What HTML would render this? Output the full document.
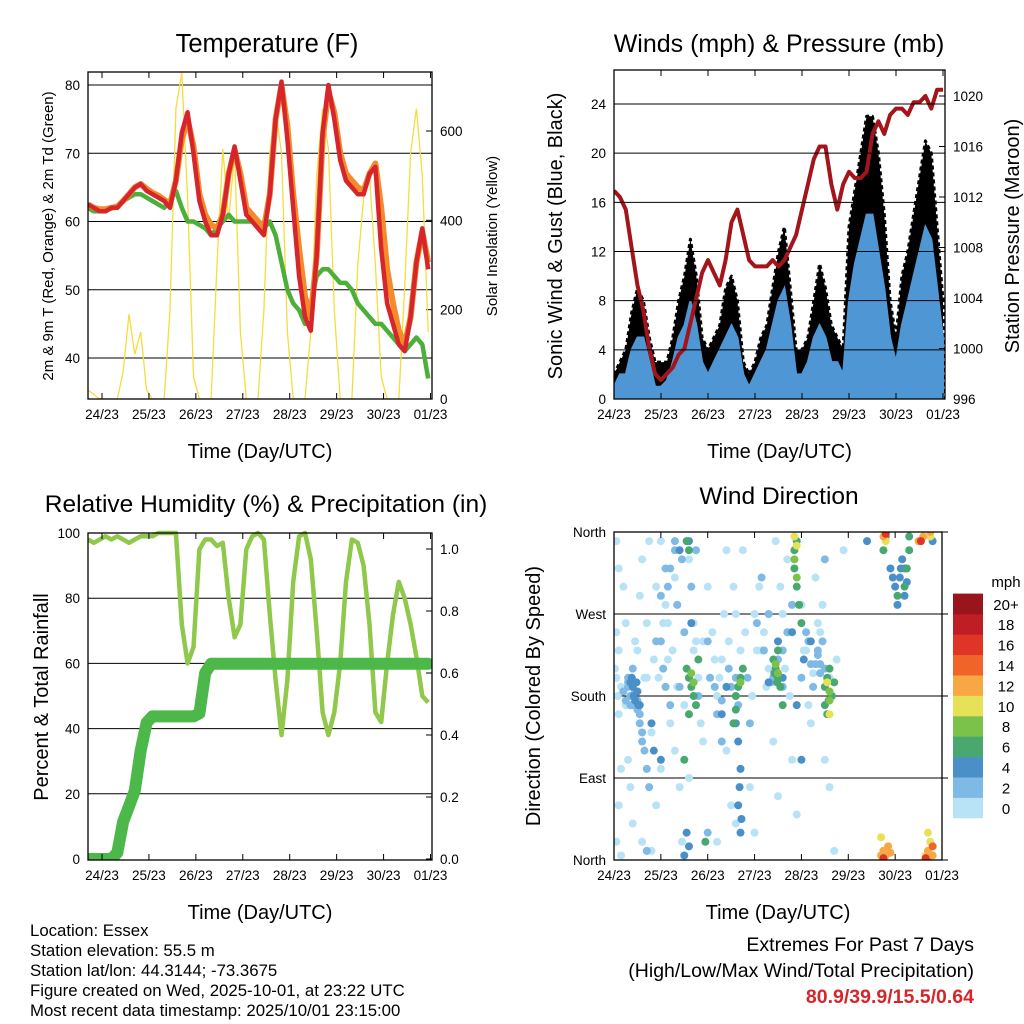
<!DOCTYPE html>
<html><head><meta charset="utf-8"><style>
html,body{margin:0;padding:0;background:#fff;}
svg{display:block;font-family:"Liberation Sans",sans-serif;}
</style></head><body>
<svg id="c" width="1024" height="1024" viewBox="0 0 1024 1024"></svg>
<script>
// ---------- DATA ----------
const tempT0 = -0.3;
const tempStep = 0.125;
const temp2m = [62.5,62,61.5,61.5,62,62,63,64,65,65.5,64.5,64,63.5,63,62,66,73,76,70,63,60,58,58,61,67,71,66,61,60,59,58,64,75,80.5,72,62,52,46,44,55,73,80,75,69,66,65,64,64,67,68,56,48,45,42,41,46,54,59,53];
const temp9m = [62.5,62,61.8,61.8,62,62.2,63,64,65,65.5,64.8,64.2,63.8,63.2,62.5,66,72,75,71,64,61,59.5,59,61,67,70.5,67,62,61,60,59,64,75,80,74,64,56,49,46,55,72,79,76,70,67,66,65,64.5,67,68.5,62,53,48,44,42,46,54,58.5,54];
const dew2m = [62,61.5,61.5,61.5,62,62,63,63.5,64,64,63.5,63,62.5,62,63,64.5,62,60,60,59.5,59,58,59,60,61,60,60,60,60,60,59,60,58,54,50,48,47,45,48,52,53,53,52,51,51,50,48,47,46,45,45,44,43,42,41,42,43,42,37];
const solar = [20,10,0,0,0,0,60,190,100,150,20,0,0,0,200,650,730,450,50,0,0,0,300,560,400,550,150,0,0,0,200,550,650,550,150,0,0,0,150,500,650,560,200,0,0,0,300,450,500,300,50,0,0,0,250,550,650,500,150];
const tempTicks = [40,50,60,70,80];
const solarTicks = [0,200,400,600];
const dayLabels = ["24/23","25/23","26/23","27/23","28/23","29/23","30/23","01/23"];

const windT0 = 0;
const windStep = 0.125;
const pressure = [1012.5,1012,1011,1008,1005,1003,1000,998,997.5,998,998.5,999.5,1000,1002,1004,1006,1007,1006,1005,1007,1010,1011,1009,1007,1006.5,1006.5,1006.5,1007,1006.5,1007,1008,1009,1011,1013,1015,1016,1016,1013,1011,1013,1014,1013.5,1013.5,1014,1017,1018,1017,1018.5,1019,1019,1018.5,1019.5,1019.5,1020,1019,1020.5,1020.5];
const gust = [2,3,4,7,9,8,5,3,3,3,5,8,10,13,10,5,4,5,6,9,10,8,3,2,3,5,6,9,12,14,9,4,4,5,8,11,9,6,5,4,14,17,20,23,23,20,15,8,5,10,12,15,18,21,20,14,8];
const sonic = [1,2,2,4,5,5,3,1,1,1.5,3,5,6,8,6,3,2,3,4,5,6,5,2,1,2,3,4,6,8,9,6,2,2,3,5,6,5,3,3,2,8,11,13,15,15,12,9,5,3,6,8,10,12,14,13,9,5];
const windTicks = [0,4,8,12,16,20,24];
const presTicks = [996,1000,1004,1008,1012,1016,1020];

const rhT0 = -0.3;
const rhStep = 0.125;
const rh = [98,97,98,99,98,99,98,97,98,99,99,99,100,100,100,100,72,60,65,95,98,98,96,97,80,68,72,95,99,100,98,75,55,38,55,85,99,100,92,70,45,38,45,60,85,98,97,90,72,45,42,60,75,85,80,72,62,50,48];
const precip = [0,0,0,0,0,0.02,0.12,0.17,0.22,0.35,0.44,0.46,0.46,0.46,0.46,0.46,0.46,0.46,0.46,0.47,0.6,0.63,0.63,0.63,0.63,0.63,0.63,0.63,0.63,0.63,0.63,0.63,0.63,0.63,0.63,0.63,0.63,0.63,0.63,0.63,0.63,0.63,0.63,0.63,0.63,0.63,0.63,0.63,0.63,0.63,0.63,0.63,0.63,0.63,0.63,0.63,0.63,0.63,0.63];
const rhTicks = [0,20,40,60,80,100];
const precipTicks = [0.0,0.2,0.4,0.6,0.8,1.0];

const dirTime = [0.05,0.1,0.05,0.1,0.05,0.1,0.15,0.1,0.05,0.15,0.3,0.35,0.5,0.6,0.55,0.7,0.7,0.8,0.9,0.9,1.0,1.1,1.15,1.2,1.3,1.4,1.45,1.6,1.7,1.8,1.9,2.0,2.1,2.2,2.3,2.4,2.5,2.6,2.6,2.7,2.75,3.1,3.2,3.3,3.4,3.5,3.6,3.8,3.9,4.0,4.2,4.1,4.3,4.4,4.5,4.6,4.7,4.9,1.6,2.9,3.0,0.4,1.3,2.2,3.7,4.6,0.8,1.0,2.4,3.45,
0.02,0.08,0.2,0.25,0.45,0.65,0.75,0.95,1.05,1.25,1.35,1.5,1.75,1.85,2.05,2.15,2.35,2.45,2.8,2.95,3.05,3.25,3.55,3.65,3.75,4.05,4.15,4.35,4.45,4.75,0.6,1.9,2.55,3.0,0.15,0.25,0.85,1.15,1.7,2.25,3.15,4.25,
0.3,0.35,0.4,0.45,0.5,0.55,0.6,0.65,0.7,0.75,0.3,0.4,1.05,1.1,1.2,1.0,1.2,1.3,1.35,1.5,1.6,1.65,1.75,1.8,2.0,2.2,2.3,2.5,2.6,2.65,2.85,3.15,3.3,3.5,3.6,3.7,3.8,4.0,4.1,4.15,4.25,4.3,4.35,4.4,4.45,4.5,4.5,1.4,2.9,3.35,2.0,0.7,
0.2,0.25,0.3,0.35,0.4,0.5,0.55,0.6,0.9,1.0,1.1,1.15,2.05,2.15,2.45,3.05,3.2,3.4,3.6,3.7,4.2,4.35,4.4,1.3,1.45,2.3,
0.4,0.45,0.5,0.55,0.35,0.8,0.85,1.0,1.4,1.6,1.5,2.65,2.7,2.65,2.7,2.6,3.5,3.6,3.8,4.05,4.2,4.0,2.4,2.3,3.9,3.3,1.55,1.6,1.65,5.9,6.0,6.1,6.2,5.95,6.8,5.4,6.2,6.15,0.42,0.48,0.52,0.38,2.68,2.72,6.05,6.12,6.25,
1.55,1.6,1.65,1.7,1.75,1.6,1.8,2.6,2.65,2.7,2.75,2.6,2.55,3.4,3.45,3.5,3.55,3.6,3.5,4.5,4.55,4.6,4.65,4.5,4.55,4.7,3.85,3.85,3.9,3.95,4.0,3.9,1.55,1.6,6.05,6.2,6.25,6.3,6.3,5.75,5.8,1.95,1.5,3.42,3.48,4.58,
3.85,3.9,3.5,4.6,1.7,1.65,3.45,4.6,2.7,
3.85,3.9,4.55,4.6,5.8,6.75,6.65,5.7,6.7,6.75,
5.8,5.75,6.6,6.75,5.75,5.8,5.85,5.7,6.7,6.75,6.8,6.7,5.9,6.5,6.8,
5.75,5.8,6.65,6.55];
const dirDeg = [350,320,250,230,200,160,100,60,20,5,110,80,230,330,290,260,200,140,60,300,350,280,220,150,120,80,20,330,260,200,130,300,250,180,220,120,60,40,270,230,340,300,250,210,130,70,270,110,50,280,150,230,310,250,110,200,10,340,90,80,30,40,310,20,330,80,10,100,340,350,
210,180,300,260,240,200,350,200,260,230,190,170,240,150,200,220,270,240,250,180,230,190,300,210,180,230,170,260,280,220,20,240,300,270,190,170,220,260,230,200,230,205,
190,180,170,185,175,160,140,120,100,80,200,210,210,190,170,240,320,340,280,250,200,300,340,180,240,160,130,190,200,170,200,310,270,220,190,250,280,200,250,240,190,215,230,215,240,210,330,190,150,195,30,10,
185,175,195,170,180,165,150,130,240,290,320,300,200,190,210,260,230,200,230,250,215,225,205,350,330,175,
190,175,185,170,195,150,120,110,340,350,5,130,100,60,30,150,240,200,250,220,240,110,190,160,170,195,30,15,260,320,300,310,290,310,350,350,320,330,180,195,170,200,80,45,280,320,305,
210,200,190,180,170,160,220,180,190,200,210,165,150,220,210,200,190,170,230,190,200,210,180,170,160,195,340,320,300,280,260,350,350,340,290,300,320,340,355,340,355,20,110,205,195,175,
330,310,205,185,195,205,215,175,195,
355,345,195,160,350,355,5,25,30,20,
360,355,355,360,10,5,15,5,10,5,15,0,8,350,5,
2,358,2,350];
const dirSpeed = [
1,1,1,1,1,1,1,1,1,1,1,1,1,1,1,1,1,1,1,1,1,1,1,1,1,1,1,1,1,1,1,1,1,1,1,1,1,1,1,1,1,1,1,1,1,1,1,1,1,1,1,1,1,1,1,1,1,1,1,1,1,1,1,1,1,1,1,1,1,1,
1,1,1,1,1,1,1,1,1,1,1,1,1,1,1,1,1,1,1,1,1,1,1,1,1,1,1,1,1,1,1,1,1,1,1,1,1,1,1,1,1,1,
3,3,3,3,3,3,3,3,3,3,3,3,3,3,3,3,3,3,3,3,3,3,3,3,3,3,3,3,3,3,3,3,3,3,3,3,3,3,3,3,3,3,3,3,3,3,3,3,3,3,3,3,
3,3,3,3,3,3,3,3,3,3,3,3,3,3,3,3,3,3,3,3,3,3,3,3,3,3,
5,5,5,5,5,5,5,5,5,5,5,5,5,5,5,5,5,5,5,5,5,5,5,5,5,5,5,5,5,5,5,5,5,5,5,5,5,5,5,5,5,5,5,5,5,5,5,
7,7,7,7,7,7,7,7,7,7,7,7,7,7,7,7,7,7,7,7,7,7,7,7,7,7,7,7,7,7,7,7,7,7,7,7,7,7,7,7,7,7,7,7,7,7,
9,9,9,9,9,9,9,9,9,
11,11,11,11,11,11,11,11,11,11,
13,13,13,13,13,13,13,13,13,13,14,14,13,13,13,
16,16,16,16];
const dirTicks = [0,90,180,270,360];
const dirLabels = ["North","East","South","West","North"];
const speedBins = ["0","2","4","6","8","10","12","14","16","18","20+"];
const speedColors = ["#b8e2f6","#7fbae6","#4b8fc8","#48a870","#7bc24a","#e6e257","#f7a845","#f16429","#df3527","#c01e26","#98151b"];

// ---------- DRAWING ----------
const svg = document.getElementById('c');
const NS = 'http://www.w3.org/2000/svg';
function el(tag, attrs, parent){
  const e = document.createElementNS(NS, tag);
  for (const k in attrs) e.setAttribute(k, attrs[k]);
  (parent||svg).appendChild(e);
  return e;
}
function txt(s, x, y, size, anchor, parent, extra){
  const t = el('text', Object.assign({x:x, y:y, 'font-size':size, 'text-anchor':anchor||'middle', fill:'#000'}, extra||{}), parent);
  t.textContent = s;
  return t;
}
function lin(a0,a1,p0,p1){ return v => p0 + (v-a0)*(p1-p0)/(a1-a0); }

function frame(g, L, T, R, B, xs, nameBase){
  for (let i=0;i<dayLabels.length;i++){
    const x = xs(i);
    el('line',{x1:x,y1:B,x2:x,y2:B-6,stroke:'#000','stroke-width':1},g);
    el('line',{x1:x,y1:T,x2:x,y2:T+6,stroke:'#000','stroke-width':1},g);
    const t = txt(dayLabels[i], x, B+20, 13.5, 'middle', g);
    
    
  }
  const r = el('rect',{x:L,y:T,width:R-L,height:B-T,fill:'none',stroke:'#000','stroke-width':1.3},g);
  
  
  const xt = txt('Time (Day/UTC)', (L+R)/2, B+59, 20, 'middle', g);
  
  
}
function pathFrom(xsArr, ysArr){
  let d='';
  for (let i=0;i<xsArr.length;i++) d += (i?'L':'M') + xsArr[i].toFixed(1)+','+ysArr[i].toFixed(1);
  return d;
}

// ===== Panel 1: Temperature =====
(function(){
  const g = el('g',{});
  
  
  const L=88,R=432,T=72,B=399;
  const xs = lin(0,7,102,430.5);
  const ys = lin(80,40,85,358);
  const ysol = lin(0,600,399,131);
  const cp = el('clipPath',{id:'cp1'},g); el('rect',{x:L,y:T,width:R-L,height:B-T},cp);
  tempTicks.forEach(v=>{
    el('line',{x1:L,x2:R,y1:ys(v),y2:ys(v),stroke:'#000','stroke-width':1},g);
    const t = txt(String(v), L-8, ys(v)+5, 13.5, 'end', g);
    
    
  });
  solarTicks.forEach(v=>{
    el('line',{x1:R,x2:R-6,y1:ysol(v),y2:ysol(v),stroke:'#000'},g);
    const t = txt(String(v), R+8, ysol(v)+5, 13.5, 'start', g);
    
    
  });
  const pg = el('g',{'clip-path':'url(#cp1)'},g);
  const tx = solar.map((v,i)=>xs(tempT0+i*tempStep));
  const sp = el('path',{d:pathFrom(tx, solar.map(ysol)),fill:'none',stroke:'#f6dc3c','stroke-width':1.3},pg);
  
  
  const dp = el('path',{d:pathFrom(tx, dew2m.map(ys)),fill:'none',stroke:'#4caf3a','stroke-width':4.5,'stroke-linejoin':'round'},pg);
  
  
  const op = el('path',{d:pathFrom(tx, temp9m.map(ys)),fill:'none',stroke:'#f58a2a','stroke-width':6,'stroke-linejoin':'round'},pg);
  
  
  const rp = el('path',{d:pathFrom(tx, temp2m.map(ys)),fill:'none',stroke:'#d7262b','stroke-width':4.5,'stroke-linejoin':'round'},pg);
  
  
  frame(g,L,T,R,B,xs,'temp');
  const ti = txt('Temperature (F)', 267, 52, 25.5, 'middle', g);
  
  
  const yl = txt('2m & 9m T (Red, Orange) & 2m Td (Green)', 0, 0, 15, 'middle', g, {transform:'translate(53,236) rotate(-90)'});
  
  
  const yr = txt('Solar Insolation (Yellow)', 0, 0, 15, 'middle', g, {transform:'translate(497,236) rotate(-90)'});
  
  
})();

// ===== Panel 2: Winds & Pressure =====
(function(){
  const g = el('g',{});
  
  
  const L=614,R=945,T=70,B=399;
  const xs = lin(0,7,614,943);
  const ys = lin(0,24,399,104);
  const yp = lin(996,1020,399,96);
  const cp = el('clipPath',{id:'cp2'},g); el('rect',{x:L,y:T,width:R-L,height:B-T},cp);
  const pg = el('g',{'clip-path':'url(#cp2)'},g);
  const tx = gust.map((v,i)=>xs(windT0+i*windStep));
  const gd = pathFrom(tx, gust.map(ys)) + 'L'+tx[tx.length-1]+','+B+'L'+tx[0]+','+B+'Z';
  const ga = el('path',{d:gd,fill:'#000',stroke:'#000','stroke-width':3,'stroke-linejoin':'round','stroke-dasharray':'4 3'},pg);
  
  
  const sd = pathFrom(tx, sonic.map(ys)) + 'L'+tx[tx.length-1]+','+B+'L'+tx[0]+','+B+'Z';
  const sa = el('path',{d:sd,fill:'#4f97d4',stroke:'#4f97d4','stroke-width':2},pg);
  
  
  windTicks.forEach(v=>{
    el('line',{x1:L,x2:R,y1:ys(v),y2:ys(v),stroke:'#000','stroke-width':1},g);
    const t = txt(String(v), L-8, ys(v)+5, 13.5, 'end', g);
    
    
  });
  const pl = el('path',{d:pathFrom(tx, pressure.map(yp)),fill:'none',stroke:'#a3151b','stroke-width':4,'stroke-linejoin':'round'},pg);
  
  
  presTicks.forEach(v=>{
    el('line',{x1:R,x2:R-6,y1:yp(v),y2:yp(v),stroke:'#000'},g);
    const t = txt(String(v), R+8, yp(v)+5, 13.5, 'start', g);
    
    
  });
  frame(g,L,T,R,B,xs,'winds');
  const ti = txt('Winds (mph) & Pressure (mb)', 779, 52, 25, 'middle', g);
  
  
  const yl = txt('Sonic Wind & Gust (Blue, Black)', 0, 0, 20, 'middle', g, {transform:'translate(562,236) rotate(-90)'});
  
  
  const yr = txt('Station Pressure (Maroon)', 0, 0, 20, 'middle', g, {transform:'translate(1019,236) rotate(-90)'});
  
  
})();

// ===== Panel 3: RH & Precip =====
(function(){
  const g = el('g',{});
  
  
  const L=88,R=432,T=533,B=860;
  const xs = lin(0,7,102,430.5);
  const ys = lin(0,100,859,533);
  const yp = lin(0,1,859,549);
  const cp = el('clipPath',{id:'cp3'},g); el('rect',{x:L,y:T-8,width:R-L,height:B-T+8},cp);
  rhTicks.forEach(v=>{
    if (v>0 && v<100) el('line',{x1:L,x2:R,y1:ys(v),y2:ys(v),stroke:'#000','stroke-width':1},g);
    const t = txt(String(v), L-8, ys(v)+5, 13.5, 'end', g);
    
    
  });
  precipTicks.forEach(v=>{
    el('line',{x1:R,x2:R-6,y1:yp(v),y2:yp(v),stroke:'#000'},g);
    const t = txt(v.toFixed(1), R+8, yp(v)+5, 13.5, 'start', g);
    
    
  });
  const pg = el('g',{'clip-path':'url(#cp3)'},g);
  const tx = rh.map((v,i)=>xs(rhT0+i*rhStep));
  const rl = el('path',{d:pathFrom(tx, rh.map(ys)),fill:'none',stroke:'#8fc84a','stroke-width':4.5,'stroke-linejoin':'round'},pg);
  
  
  const pl = el('path',{d:pathFrom(tx, precip.map(yp)),fill:'none',stroke:'#4cb84a','stroke-width':12,'stroke-linejoin':'round','stroke-linecap':'round'},pg);
  
  
  frame(g,L,T,R,B,xs,'humidity');
  const ti = txt('Relative Humidity (%) & Precipitation (in)', 266, 512, 24.5, 'middle', g);
  
  
  const yl = txt('Percent & Total Rainfall', 0, 0, 20, 'middle', g, {transform:'translate(48,697) rotate(-90)'});
  
  
})();

// ===== Panel 4: Wind Direction =====
(function(){
  const g = el('g',{});
  
  
  const L=614,R=942,T=532,B=860;
  const xs = lin(0,7,614,942);
  const ys = lin(0,360,860,532);
  const cp = el('clipPath',{id:'cp4'},g); el('rect',{x:L,y:T,width:R-L,height:B-T},cp);
  dirTicks.forEach((v,i)=>{
    el('line',{x1:L,x2:R+6,y1:ys(v),y2:ys(v),stroke:'#000','stroke-width':1},g);
    const t = txt(dirLabels[i], L-8, ys(v)+5, 13.5, 'end', g);
    
    
  });
  const pg = el('g',{'clip-path':'url(#cp4)'},g);
  for (let i=0;i<dirTime.length;i++){
    const bin = Math.min(10, Math.floor(dirSpeed[i]/2));
    const c = el('circle',{cx:xs(dirTime[i]),cy:ys(dirDeg[i]),r:4,fill:speedColors[bin]},pg);
    
    
  }
  frame(g,L,T,R,B,xs,'direction');
  const ti = txt('Wind Direction', 779, 504, 24.5, 'middle', g);
  
  
  const yl = txt('Direction (Colored By Speed)', 0, 0, 20, 'middle', g, {transform:'translate(540,696) rotate(-90)'});
  
  
  const cb = el('g',{},g);
  
  
  const h = 20.4;
  for (let i=0;i<speedBins.length;i++){
    const y = 818 - (i+1)*h;
    el('rect',{x:953,y:y,width:30,height:h+0.3,fill:speedColors[i]},cb);
    const t = txt(speedBins[i], 1006, y+h/2+6, 15, 'middle', cb);
    
    
  }
  const u = txt('mph', 1006, 587, 15, 'middle', cb);
  
  
})();
</script>
<div style="position:absolute;left:0;top:0;width:1024px;height:1024px;pointer-events:none;font-family:'Liberation Sans',sans-serif;">
  <div style="position:absolute;left:30px;top:921px;font-size:16.8px;line-height:20px;color:#000;">
    <div>Location: Essex</div>
    <div>Station elevation: 55.5 m</div>
    <div>Station lat/lon: 44.3144; -73.3675</div>
    <div>Figure created on Wed, 2025-10-01, at 23:22 UTC</div>
    <div>Most recent data timestamp: 2025/10/01 23:15:00</div>
  </div>
  <div style="position:absolute;right:50px;top:932px;font-size:19.5px;line-height:26px;text-align:right;color:#000;">
    <div>Extremes For Past 7 Days</div>
    <div>(High/Low/Max Wind/Total Precipitation)</div>
    <div style="color:#d7262b;font-weight:bold;">80.9/39.9/15.5/0.64</div>
  </div>
</div>
</body></html>
